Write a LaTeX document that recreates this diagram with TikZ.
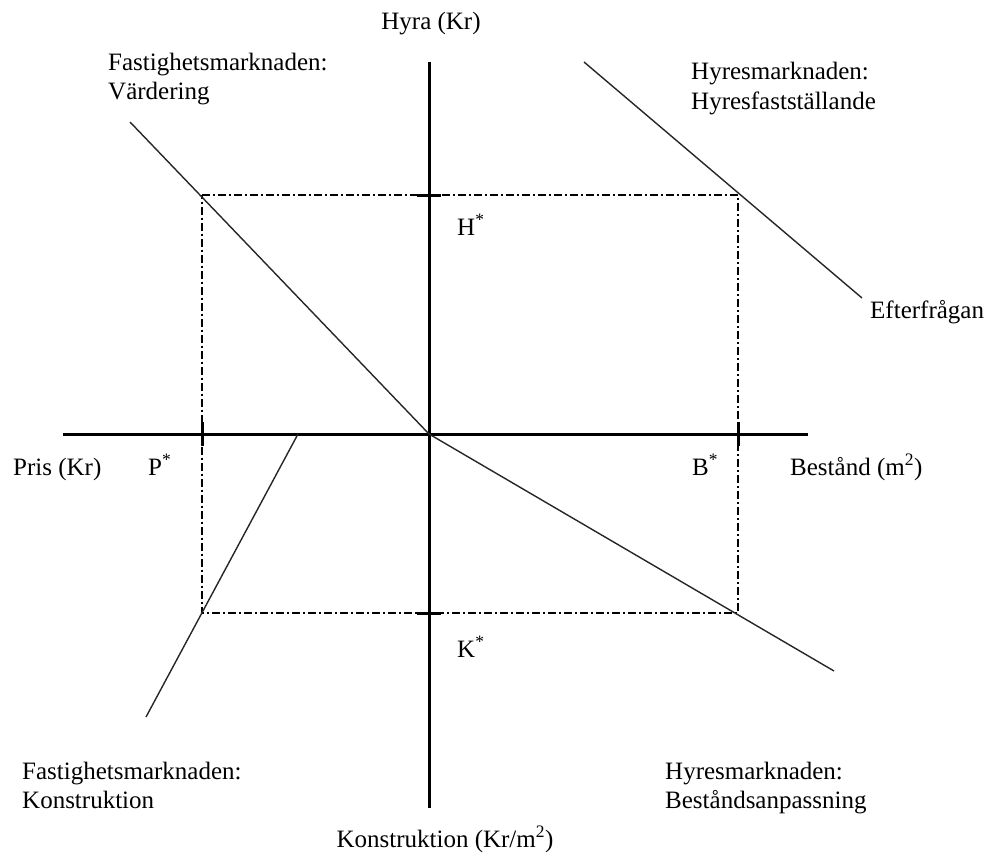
\documentclass[tikz,border=0pt]{standalone}
\usepackage{fontspec}
\setmainfont{Liberation Serif}
\begin{document}
\begin{tikzpicture}[x=1pt,y=-1pt,
  axis/.style={line width=3pt},
  thinline/.style={line width=1.4pt, draw=black!85},
  guide/.style={line width=1.3pt, dash pattern=on 8pt off 3pt on 2pt off 3pt},
  tickmark/.style={line width=3pt},
  lbl/.style={inner sep=0pt, anchor=base west, font=\fontsize{25}{30}\selectfont},
  clbl/.style={inner sep=0pt, anchor=base, font=\fontsize{25}{30}\selectfont}]
\useasboundingbox (0,0) rectangle (995,856);
% axes
\coordinate (O) at (429,434);
\coordinate (ytop) at (429,62);
\coordinate (ybot) at (429,808);
\coordinate (xleft) at (63,434);
\coordinate (xright) at (808,434);
\draw[axis] (ytop) -- (ybot);
\draw[axis] (xleft) -- (xright);
% equilibrium points
\coordinate (PH) at (202,195);
\coordinate (BH) at (738,195);
\coordinate (PK) at (202,613);
\coordinate (BK) at (738,613);
\draw[guide] (PH) -- (BH) -- (BK) -- (PK) -- cycle;
% ticks
\coordinate (Ht1) at (417,195); \coordinate (Ht2) at (441,195);
\coordinate (Kt1) at (417,613); \coordinate (Kt2) at (441,613);
\coordinate (Pt1) at (202,422); \coordinate (Pt2) at (202,446);
\coordinate (Bt1) at (738,422); \coordinate (Bt2) at (738,446);
\draw[tickmark] (Ht1) -- (Ht2);
\draw[tickmark] (Kt1) -- (Kt2);
\draw[tickmark] (Pt1) -- (Pt2);
\draw[tickmark] (Bt1) -- (Bt2);
% curves
\coordinate (V1) at (130,122);
\draw[thinline] (V1) -- (O);
\coordinate (D1) at (584,62);
\coordinate (D2) at (862,298);
\draw[thinline] (D1) -- (D2);
\coordinate (S2) at (834,671);
\draw[thinline] (O) -- (S2);
\coordinate (C1) at (298,434);
\coordinate (C2) at (146,717);
\draw[thinline] (C1) -- (C2);
% labels
\node[clbl] (hyra) at (431,30) {Hyra (Kr)};
\node[clbl] (konstr) at (445,847) {Konstruktion (Kr/m\textsuperscript{2})};
\node[lbl] (pris) at (13,475) {Pris (Kr)};
\node[lbl] (bestand) at (790,475) {Bestånd (m\textsuperscript{2})};
\node[lbl] (hstar) at (457,235) {H\textsuperscript{*}};
\node[lbl] (kstar) at (457,657) {K\textsuperscript{*}};
\node[lbl] (pstar) at (148,475) {P\textsuperscript{*}};
\node[lbl] (bstar) at (692,475) {B\textsuperscript{*}};
\node[lbl] (fv1) at (108,71) {Fastighetsmarknaden:};
\node[lbl] (fv2) at (108,100) {Värdering};
\node[lbl] (hf1) at (691,80) {Hyresmarknaden:};
\node[lbl] (hf2) at (691,110) {Hyresfastställande};
\node[lbl] (eft) at (870,318) {Efterfrågan};
\node[lbl] (fk1) at (22,779) {Fastighetsmarknaden:};
\node[lbl] (fk2) at (22,808) {Konstruktion};
\node[lbl] (hb1) at (665,779) {Hyresmarknaden:};
\node[lbl] (hb2) at (665,808) {Beståndsanpassning};
\end{tikzpicture}
\end{document}
